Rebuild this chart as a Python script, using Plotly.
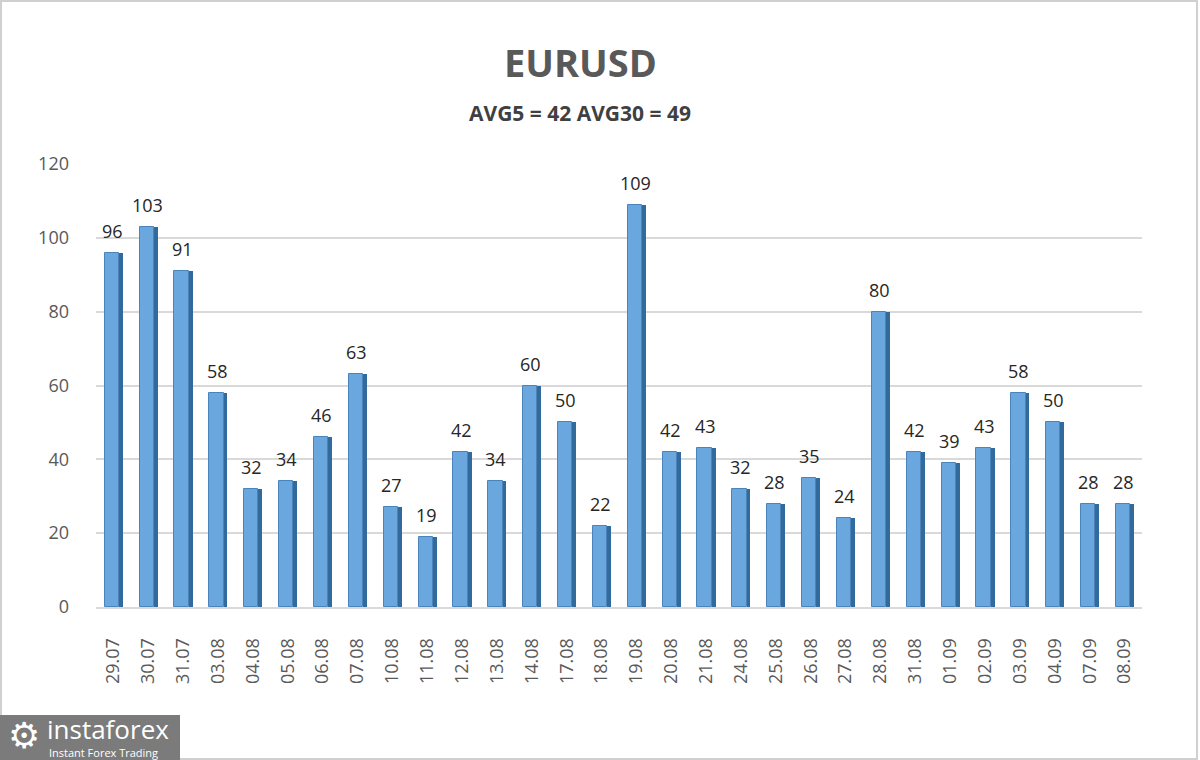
import plotly.graph_objects as go

dates = ["29.07", "30.07", "31.07", "03.08", "04.08", "05.08", "06.08", "07.08",
         "10.08", "11.08", "12.08", "13.08", "14.08", "17.08", "18.08", "19.08",
         "20.08", "21.08", "24.08", "25.08", "26.08", "27.08", "28.08", "31.08",
         "01.09", "02.09", "03.09", "04.09", "07.09", "08.09"]
volatility = [96, 103, 91, 58, 32, 34, 46, 63, 27, 19, 42, 34, 60, 50, 22, 109,
              42, 43, 32, 28, 35, 24, 80, 42, 39, 43, 58, 50, 28, 28]
y_ticks = [0, 20, 40, 60, 80, 100, 120]

W, H = 1200, 760
L, R, T, B = 96, 58, 164, 153
PW, PH = W - L - R, H - T - B


def px(x):
    return (x - L) / PW


def py(y):
    return (H - B - y) / PH


FONT = "Open Sans, Segoe UI, sans-serif"

fig = go.Figure()

# dark right side of each bar (fake 3D)
fig.add_trace(go.Bar(
    x=dates, y=volatility, width=0.11, offset=0.16,
    marker=dict(color="#336a9c", line=dict(width=0)),
    hoverinfo="skip", showlegend=False,
))
# front face
fig.add_trace(go.Bar(
    x=dates, y=volatility, width=0.41, offset=-0.25,
    marker=dict(color="#6aa7de", line=dict(color="#4a84bb", width=1)),
    showlegend=False,
))

shapes = [
    # outer frame
    dict(type="rect", xref="paper", yref="paper",
         x0=px(1), x1=px(1197), y0=py(759), y1=py(1),
         line=dict(color="#d0d0d0", width=2), layer="below"),
    # logo plate
    dict(type="rect", xref="paper", yref="paper",
         x0=px(0), x1=px(180), y0=py(760), y1=py(715),
         line=dict(width=0), fillcolor="#7b7b7b"),
]

annotations = [
    dict(text="<b>EURUSD</b>", x=px(580), y=py(62), xref="paper", yref="paper",
         xanchor="center", yanchor="middle", showarrow=False,
         font=dict(family=FONT, size=38, color="#595959")),
    dict(text="<b>AVG5 = 42 AVG30 = 49</b>", x=px(580), y=py(113), xref="paper", yref="paper",
         xanchor="center", yanchor="middle", showarrow=False,
         font=dict(family=FONT, size=21, color="#404040")),
    dict(text="⚙", x=px(24), y=py(735), xref="paper", yref="paper",
         xanchor="center", yanchor="middle", showarrow=False,
         font=dict(family="DejaVu Sans", size=36, color="#ffffff")),
    dict(text="instaforex", x=px(45), y=py(729), xref="paper", yref="paper",
         xanchor="left", yanchor="middle", showarrow=False,
         font=dict(family="Open Sans, sans-serif", size=26, color="#ffffff")),
    dict(text="Instant Forex Trading", x=px(47), y=py(752), xref="paper", yref="paper",
         xanchor="left", yanchor="middle", showarrow=False,
         font=dict(family="Open Sans, sans-serif", size=11, color="#ffffff")),
]

# value labels above the bars
for i, v in enumerate(volatility):
    annotations.append(dict(
        x=i, y=v, xref="x", yref="y", text=str(v), showarrow=False,
        xanchor="center", yanchor="bottom", xshift=-1, yshift=8,
        font=dict(family=FONT, size=18, color="#262626"),
    ))

fig.update_layout(
    width=W, height=H,
    margin=dict(l=L, r=R, t=T, b=B, autoexpand=False),
    paper_bgcolor="#ffffff", plot_bgcolor="#ffffff",
    bargap=0.0, barmode="overlay",
    shapes=shapes, annotations=annotations,
    xaxis=dict(
        type="category", tickangle=-90, showgrid=False, ticks="",
        range=[-0.5, len(dates) - 0.5],
        showline=True, linecolor="#d9d9d9", linewidth=2,
        tickfont=dict(family=FONT, size=18, color="#595959"),
        ticklabelstandoff=22,
    ),
    yaxis=dict(
        range=[0, 120], tickvals=y_ticks, showgrid=True, gridcolor="#d9d9d9",
        gridwidth=1.5, zeroline=False, ticks="", showline=False,
        tickfont=dict(family=FONT, size=18, color="#595959"),
        ticklabelstandoff=26,
    ),
)

fig.write_html("out.html", config={"displayModeBar": False},
               post_script="document.body.style.margin='0';")
